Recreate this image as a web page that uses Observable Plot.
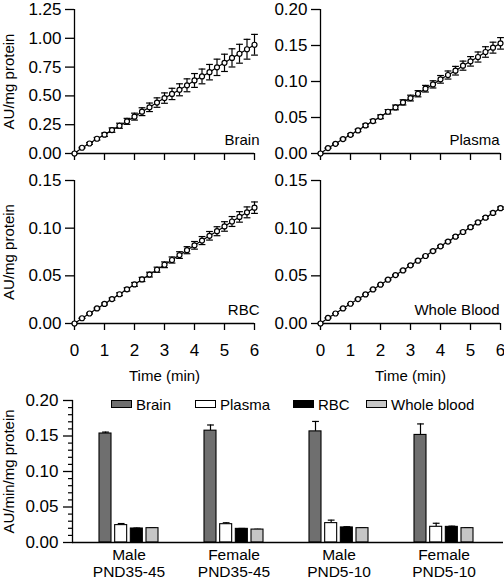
<!DOCTYPE html>
<html><head><meta charset="utf-8">
<script src="https://cdn.jsdelivr.net/npm/d3@7"></script>
<script src="https://cdn.jsdelivr.net/npm/@observablehq/plot@0.6"></script>
<style>
body{margin:0;background:#fff;}
#root{position:relative;width:504px;height:580px;overflow:hidden;font-family:"Liberation Sans",Arial,Helvetica,sans-serif;color:#000;}
#root .pw{position:absolute;}
#root g[aria-label="y-axis tick label"] text, #root g[aria-label="x-axis tick label"] text{font-size:17px;}
.legend{position:absolute;top:396px;left:0;height:16px;font-size:15px;}
.legend .item{position:absolute;top:0;display:flex;align-items:center;height:16px;white-space:nowrap;}
.legend .sw{width:19px;height:6px;border:1px solid #000;margin-right:4px;}
</style></head><body><div id="root"></div>
<script>
// ---- data: time course (min) ----
const times = [0, 0.25, 0.5, 0.75, 1, 1.25, 1.5, 1.75, 2, 2.25, 2.5, 2.75, 3, 3.25, 3.5, 3.75, 4, 4.25, 4.5, 4.75, 5, 5.25, 5.5, 5.75, 6];
const brainMean = [0, 0.050, 0.087, 0.128, 0.163, 0.203, 0.241, 0.279, 0.320, 0.363, 0.401, 0.442, 0.481, 0.517, 0.553, 0.592, 0.634, 0.669, 0.706, 0.748, 0.787, 0.830, 0.866, 0.905, 0.944];
const brainErr = [0, 0.004, 0.008, 0.011, 0.015, 0.019, 0.022, 0.026, 0.030, 0.034, 0.037, 0.041, 0.045, 0.049, 0.052, 0.056, 0.060, 0.064, 0.067, 0.071, 0.075, 0.079, 0.082, 0.086, 0.090];
const plasmaMean = [0, 0.0075, 0.0135, 0.020, 0.026, 0.032, 0.039, 0.045, 0.051, 0.058, 0.064, 0.071, 0.077, 0.083, 0.090, 0.096, 0.103, 0.109, 0.115, 0.122, 0.128, 0.134, 0.141, 0.147, 0.153];
const plasmaErr = [0, 0.0003, 0.0006, 0.001, 0.0013, 0.0016, 0.002, 0.0023, 0.0026, 0.003, 0.0033, 0.0036, 0.004, 0.0043, 0.0046, 0.005, 0.0053, 0.0056, 0.006, 0.0063, 0.0066, 0.007, 0.0073, 0.0076, 0.008];
const rbcMean = [0, 0.0055, 0.0105, 0.0158, 0.0205, 0.0256, 0.0307, 0.0358, 0.041, 0.0462, 0.0513, 0.0564, 0.0616, 0.0666, 0.0718, 0.0769, 0.082, 0.087, 0.092, 0.0968, 0.1018, 0.107, 0.1118, 0.1166, 0.1215];
const rbcErr = [0, 0.0002, 0.0005, 0.0007, 0.001, 0.0012, 0.0015, 0.0017, 0.002, 0.0022, 0.0025, 0.0027, 0.003, 0.0032, 0.0035, 0.0037, 0.004, 0.0042, 0.0045, 0.0047, 0.005, 0.0052, 0.0055, 0.0057, 0.006];
const wholeMean = [0, 0.0058, 0.0105, 0.0158, 0.0207, 0.0256, 0.0305, 0.0357, 0.0407, 0.046, 0.0508, 0.0557, 0.061, 0.0659, 0.0708, 0.076, 0.081, 0.0859, 0.0911, 0.096, 0.101, 0.106, 0.111, 0.116, 0.121];
const wholeErr = [0, 0.0001, 0.0001, 0.0002, 0.0002, 0.0003, 0.0003, 0.0004, 0.0004, 0.0005, 0.0005, 0.0006, 0.0006, 0.0007, 0.0007, 0.0008, 0.0008, 0.0009, 0.0009, 0.001, 0.001, 0.0011, 0.0011, 0.0012, 0.0012];
const xTicks = [0, 1, 2, 3, 4, 5, 6];
const brainTicks = [0, 0.25, 0.5, 0.75, 1.0, 1.25];
const plasmaTicks = [0, 0.05, 0.10, 0.15, 0.20];
const rbcTicks = [0, 0.05, 0.10, 0.15];
const wholeTicks = [0, 0.05, 0.10, 0.15];

// ---- data: rates (AU/min/mg protein) ----
const groups = ["Male\nPND35-45", "Female\nPND35-45", "Male\nPND5-10", "Female\nPND5-10"];
const series = ["Brain", "Plasma", "RBC", "Whole blood"];
const brainRate = [0.1535, 0.1575, 0.1565, 0.1515];
const brainRateErr = [0.002, 0.008, 0.014, 0.0155];
const plasmaRate = [0.0245, 0.0258, 0.0273, 0.0221];
const plasmaRateErr = [0.0022, 0.002, 0.0042, 0.005];
const rbcRate = [0.0197, 0.0192, 0.0212, 0.0220];
const rbcRateErr = [0.0006, 0.0006, 0.001, 0.001];
const wholeRate = [0.0202, 0.0182, 0.0202, 0.0202];
const wholeRateErr = [0.0004, 0.0004, 0.0004, 0.0004];
const barMajorTicks = [0, 0.05, 0.10, 0.15, 0.20];
const barMinorTicks = [0.01, 0.02, 0.03, 0.04, 0.06, 0.07, 0.08, 0.09, 0.11, 0.12, 0.13, 0.14, 0.16, 0.17, 0.18, 0.19];
const seriesColors = ["#6f6f6f", "#ffffff", "#000000", "#c6c6c6"];

// ---- drawing ----
const FONT = '"Liberation Sans", Arial, Helvetica, sans-serif';
const root = document.getElementById("root");
const fmt = d3.format(".2f");
const capSymbol = {draw(ctx, size) { const r = Math.sqrt(size / Math.PI); ctx.moveTo(-r, 0); ctx.lineTo(r, 0); }};
const baseStyle = {background: "transparent", overflow: "visible", fontSize: "15px", fontFamily: FONT, color: "#000"};

function place(svg, left, top) {
  const w = document.createElement("div");
  w.className = "pw"; w.style.left = left + "px"; w.style.top = top + "px";
  w.appendChild(svg); root.appendChild(w);
}

function panel(o) {
  const data = times.map((t, i) => ({t, m: o.mean[i], lo: o.mean[i] - o.err[i], hi: o.mean[i] + o.err[i]}));
  const svg = Plot.plot({
    width: o.width, height: o.height,
    marginLeft: 74, marginRight: o.mr, marginTop: o.mt, marginBottom: o.mb,
    style: baseStyle,
    x: {domain: [0, 6]},
    y: {domain: o.yDomain},
    marks: [
      Plot.ruleX([0], {strokeWidth: 1.3}),
      Plot.ruleY([0], {strokeWidth: 1.3}),
      Plot.axisY({ticks: o.yTicks, tickSize: 9, tickPadding: 4, strokeWidth: 1.3, tickFormat: fmt, label: null}),
      o.ylabel ? Plot.axisY({ticks: [], tickSize: 0, label: o.ylabel, labelAnchor: "center", labelArrow: "none"}) : null,
      Plot.axisX({ticks: xTicks, tickSize: 7, tickPadding: 13, strokeWidth: 1.3,
        tickFormat: o.showX ? (d => String(d)) : (() => ""), label: null}),
      o.showX ? Plot.axisX({ticks: [], tickSize: 0, label: "Time (min)", labelAnchor: "center", labelArrow: "none"}) : null,
      Plot.ruleX(data, {x: "t", y1: "lo", y2: "hi", strokeWidth: 1.2}),
      Plot.dot(data, {x: "t", y: "lo", symbol: capSymbol, r: 3.4, fill: "none", stroke: "black", strokeWidth: 1.2}),
      Plot.dot(data, {x: "t", y: "hi", symbol: capSymbol, r: 3.4, fill: "none", stroke: "black", strokeWidth: 1.2}),
      Plot.line(data, {x: "t", y: "m", stroke: "black", strokeWidth: 1.2}),
      Plot.dot(data, {x: "t", y: "m", r: 2.5, fill: "white", stroke: "black", strokeWidth: 1.2}),
      Plot.text([o.label], {text: d => d, frameAnchor: "bottom-right", textAnchor: "end", lineAnchor: "bottom", dx: o.labelDx, dy: -9, fontSize: 15})
    ]
  });
  place(svg, o.left, o.top);
}

panel({mean: brainMean, err: brainErr, label: "Brain", yDomain: [0, 1.25], yTicks: brainTicks, showX: false,
  ylabel: "AU/mg protein", left: 0, top: 0, width: 260, height: 165, mr: 6, mt: 9, mb: 12, labelDx: 5});
panel({mean: plasmaMean, err: plasmaErr, label: "Plasma", yDomain: [0, 0.20], yTicks: plasmaTicks, showX: false,
  ylabel: null, left: 246, top: 0, width: 258, height: 165, mr: 4, mt: 9, mb: 12, labelDx: -1});
panel({mean: rbcMean, err: rbcErr, label: "RBC", yDomain: [0, 0.15], yTicks: rbcTicks, showX: true,
  ylabel: "AU/mg protein", left: 0, top: 170, width: 260, height: 213, mr: 6, mt: 10, mb: 60, labelDx: 5});
panel({mean: wholeMean, err: wholeErr, label: "Whole Blood", yDomain: [0, 0.15], yTicks: wholeTicks, showX: true,
  ylabel: null, left: 246, top: 170, width: 258, height: 213, mr: 4, mt: 10, mb: 60, labelDx: -1});

// ---- bar chart ----
const rates = [brainRate, plasmaRate, rbcRate, wholeRate];
const rateErrs = [brainRateErr, plasmaRateErr, rbcRateErr, wholeRateErr];
const rows = groups.flatMap((g, i) => series.map((s, j) => ({group: g, series: s, j, v: rates[j][i], e: rateErrs[j][i]})));
const bw = 59.5, barW = 12.5, barStep = (bw - barW) / 3;
const barMarks = [];
series.forEach((s, j) => {
  const d = rows.filter(r => r.j === j);
  const dx = j * barStep + barW / 2 - bw / 2;
  barMarks.push(Plot.ruleX(d, {x: "group", y1: "v", y2: r => r.v + r.e, dx, strokeWidth: 1.2}));
  barMarks.push(Plot.dot(d, {x: "group", y: r => r.v + r.e, dx, symbol: capSymbol, r: 3.4, fill: "none", stroke: "black", strokeWidth: 1.2}));
  barMarks.push(Plot.barY(d, {x: "group", y: "v", fill: seriesColors[j], stroke: "black", strokeWidth: 1.1,
    insetLeft: j * barStep, insetRight: bw - j * barStep - barW}));
});
const bar = Plot.plot({
  width: 504, height: 200,
  marginLeft: 72, marginRight: 1, marginTop: 20, marginBottom: 38,
  style: baseStyle,
  x: {type: "band", domain: groups, paddingInner: 0.436, paddingOuter: 0.26, align: 0.467},
  y: {domain: [0, 0.20]},
  marks: [
    Plot.frame({anchor: "left", strokeWidth: 1.3}),
    Plot.axisY({ticks: barMinorTicks, tickSize: 4, strokeWidth: 1.2, tickFormat: () => "", label: null}),
    Plot.axisY({ticks: barMajorTicks, tickSize: 9, tickPadding: 5, strokeWidth: 1.3, tickFormat: fmt, label: null}),
    Plot.axisY({ticks: [], tickSize: 0, label: "AU/min/mg protein", labelAnchor: "center", labelArrow: "none"}),
    Plot.axisX({tickSize: 0, tickPadding: 5, lineHeight: 1.1, label: null, fontSize: 15.5}),
    ...barMarks,
    Plot.ruleY([0], {strokeWidth: 1.3})
  ]
});
// category labels keep their own size
bar.querySelectorAll('g[aria-label="x-axis tick label"]').forEach(g => g.setAttribute("aria-label", "x-axis category label"));
place(bar, 0, 380);

// ---- legend (inside bar panel) ----
const legendX = [111, 195, 293, 366];
const lg = document.createElement("div");
lg.className = "legend";
series.forEach((s, j) => {
  const it = document.createElement("div");
  it.className = "item"; it.style.left = legendX[j] + "px";
  const sw = document.createElement("span"); sw.className = "sw"; sw.style.background = seriesColors[j];
  const tx = document.createElement("span"); tx.textContent = s;
  it.appendChild(sw); it.appendChild(tx); lg.appendChild(it);
});
root.appendChild(lg);
</script></body></html>
